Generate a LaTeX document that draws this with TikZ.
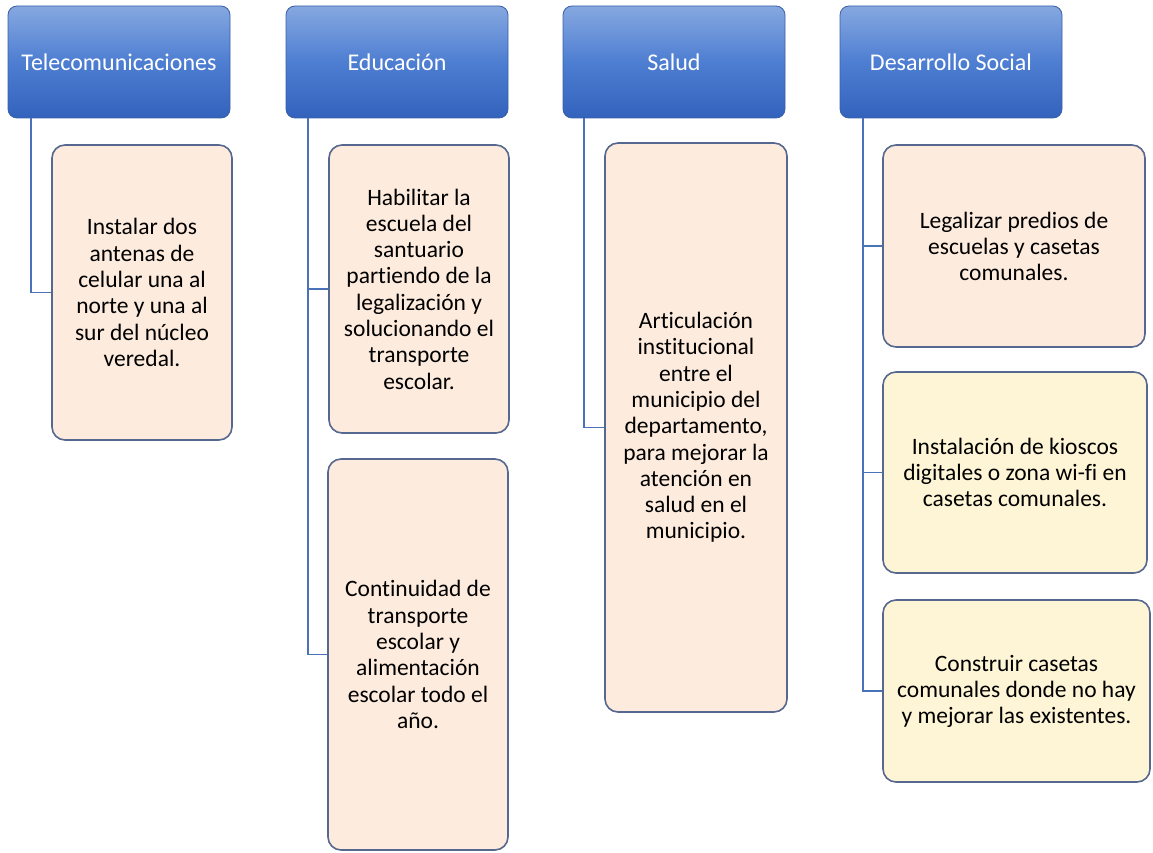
\documentclass[tikz,border=0pt]{standalone}
\usepackage{fontspec}
\setmainfont{Carlito}[Ligatures=NoCommon]
\definecolor{hdtop}{HTML}{86A8E0}
\definecolor{hdmid}{HTML}{4E7ED2}
\definecolor{hdbot}{HTML}{3262BC}
\definecolor{hdborder}{HTML}{3A5FA8}
\definecolor{peach}{HTML}{FDEBDD}
\definecolor{cream}{HTML}{FEF5D6}
\definecolor{kidborder}{HTML}{56688F}
\definecolor{conn}{HTML}{4A72B8}
\begin{document}
\begin{tikzpicture}[x=1pt,y=-1pt,
  head/.style={rounded corners=9pt, draw=hdborder, line width=0.8pt,
    top color=hdtop, bottom color=hdbot, middle color=hdmid,
    text=white, font=\fontsize{24}{28}\selectfont,
    minimum width=222pt, minimum height=112pt, inner sep=0pt},
  kid/.style={rounded corners=13pt, draw=kidborder, line width=1.6pt,
    fill=peach, align=center, inner sep=0pt,
    font=\fontsize{23.5}{26.3}\selectfont},
  kidds/.style={kid, font=\fontsize{23.5}{26}\selectfont},
  yel/.style={fill=cream},
  link/.style={draw=conn, line width=1.8pt}
]
\useasboundingbox (0,0) rectangle (1153,853);

% headers
\node[head] (h1) at (119,62) {Telecomunicaciones};
\node[head] (h2) at (397,62) {Educación};
\node[head] (h3) at (674,62) {Salud};
\node[head] (h4) at (951,62) {Desarrollo Social};

% children
\node[kid, minimum width=180pt, minimum height=295pt] (t1) at (142,292.5)
  {Instalar dos\\antenas de\\celular una al\\norte y una al\\sur del núcleo\\veredal.};
\node[kid, minimum width=180pt, minimum height=288pt] (e1) at (419,289)
  {Habilitar la\\escuela del\\santuario\\partiendo de la\\legalización y\\solucionando el\\transporte\\escolar.};
\node[kid, minimum width=180pt, minimum height=391pt] (e2) at (418,654.5)
  {Continuidad de\\transporte\\escolar y\\alimentación\\escolar todo el\\año.};
\node[kid, minimum width=182pt, minimum height=569pt] (s1) at (696,427.5)
  {Articulación\\institucional\\entre el\\municipio del\\departamento,\\para mejorar la\\atención en\\salud en el\\municipio.};
\node[kidds, minimum width=262pt, minimum height=202pt] (d1) at (1014,246)
  {Legalizar predios de\\escuelas y casetas\\comunales.};
\node[kidds, yel, minimum width=264pt, minimum height=201pt] (d2) at (1015,472.5)
  {Instalación de kioscos\\digitales o zona wi-fi en\\casetas comunales.};
\node[kidds, yel, minimum width=267pt, minimum height=182pt] (d3) at (1016.5,691)
  {Construir casetas\\comunales donde no hay\\y mejorar las existentes.};

% connectors
\coordinate (c1) at (31,118);
\coordinate (c2) at (308,118);
\coordinate (c3) at (584,118);
\coordinate (c4) at (863,118);
\draw[link] (c1) |- (t1.west);
\draw[link] (c2) |- (e1.west);
\draw[link] (c2) |- (e2.west);
\draw[link] (c3) |- (s1.west);
\draw[link] (c4) |- (d1.west);
\draw[link] (c4) |- (d2.west);
\draw[link] (c4) |- (d3.west);
\end{tikzpicture}
\end{document}
